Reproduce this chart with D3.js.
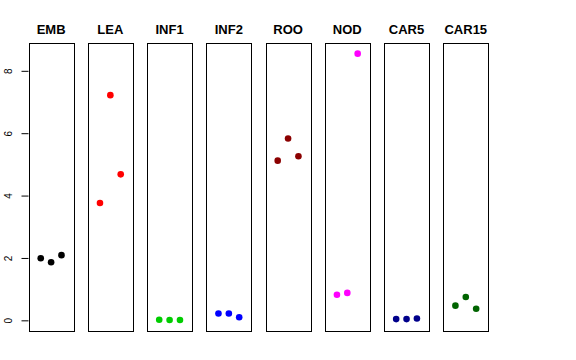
<!DOCTYPE html>
<html>
<head>
  <meta charset="utf-8"/>
  <title>Panels</title>
  <script src="https://cdn.jsdelivr.net/npm/d3@7"></script>
<style>
body { margin: 0; background: #fff; }
.title { font: bold 13px "Liberation Sans", Arial, sans-serif; text-anchor: middle; }
.tick text { font: 10px "Liberation Sans", Arial, sans-serif; }
</style>
</head>
<body>
  <svg id="chart" width="576" height="360"></svg>
  <script>
    // tissues and the three replicate values for each
    var tissues = ["EMB", "LEA", "INF1", "INF2", "ROO", "NOD", "CAR5", "CAR15"];
    var colors = ["#000000", "#ff0000", "#00cd00", "#0000ff", "#8b0000", "#ff00ff", "#00008b", "#006400"];
    var EMB = [1.99, 1.86, 2.09];
    var LEA = [3.76, 7.22, 4.68];
    var INF1 = [0.02, 0.01, 0.01];
    var INF2 = [0.22, 0.22, 0.10];
    var ROO = [5.12, 5.83, 5.26];
    var NOD = [0.82, 0.88, 8.55];
    var CAR5 = [0.04, 0.04, 0.06];
    var CAR15 = [0.47, 0.75, 0.37];
    var yTicks = [0, 2, 4, 6, 8];

    var values = [EMB, LEA, INF1, INF2, ROO, NOD, CAR5, CAR15];

    var plotTop = 43, plotBottom = 331;
    var svg = d3.select("#chart");

    var panel = d3.scaleBand()
        .domain(tissues)
        .range([28.7, 488.2])
        .paddingInner(0.2436)
        .paddingOuter(0);

    var y = d3.scaleLinear()
        .domain([-0.342, 8.892])
        .range([plotBottom, plotTop]);

    var yAxis = svg.append("g")
        .attr("transform", "translate(28.5,0)")
        .call(d3.axisLeft(y).tickValues(yTicks).tickSize(7));
    yAxis.select(".domain").remove();
    yAxis.selectAll("line").attr("stroke", "#000");
    // labels turned to read upward, as in the reference
    yAxis.selectAll(".tick text")
        .attr("x", -19)
        .attr("y", 0)
        .attr("dy", 0)
        .attr("transform", "rotate(-90,-19,0)")
        .attr("dominant-baseline", "middle")
        .style("text-anchor", "middle")
        .attr("fill", "#000");

    tissues.forEach(function(t, i) {
      var x0 = panel(t), w = panel.bandwidth();
      var x = d3.scaleLinear().domain([-0.16, 4.16]).range([x0, x0 + w]);
      var g = svg.append("g");

      g.append("rect")
          .attr("x", Math.round(x0) + 0.5)
          .attr("y", plotTop + 0.5)
          .attr("width", Math.round(w))
          .attr("height", plotBottom - plotTop)
          .attr("fill", "none")
          .attr("stroke", "#000");

      g.append("text")
          .attr("class", "title")
          .attr("x", x0 + w / 2)
          .attr("y", 34)
          .text(t);

      g.selectAll("circle")
          .data(values[i])
          .enter().append("circle")
          .attr("cx", function(d, j) { return x(j + 1); })
          .attr("cy", function(d) { return y(d); })
          .attr("r", 3.3)
          .attr("fill", colors[i]);
    });
  </script>
</body>
</html>
